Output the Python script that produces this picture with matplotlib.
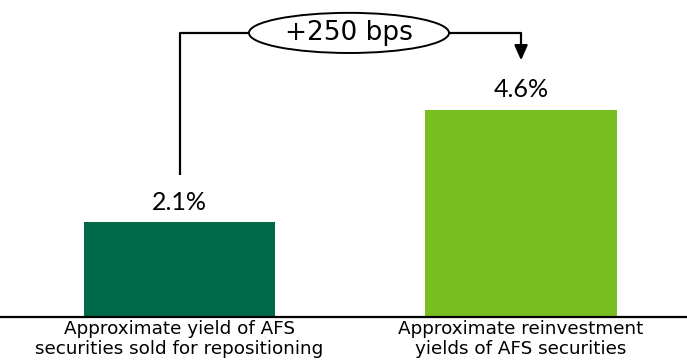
import matplotlib
matplotlib.use("Agg")
import matplotlib.pyplot as plt
from matplotlib.patches import Ellipse

categories = ["Approximate yield of AFS\nsecurities sold for repositioning",
              "Approximate reinvestment\nyields of AFS securities"]
values = [2.1, 4.6]
value_labels = ["2.1%", "4.6%"]
delta_label = "+250 bps"
colors = ["#00694A", "#78BE21"]

fig = plt.figure(figsize=(6.87, 3.63), dpi=100)
ax = fig.add_axes([0, 0.1267, 1, 0.8733])
x = [0, 1]
ax.bar(x, values, width=0.56, color=colors)
ax.set_xlim(-0.526, 1.486)
ax.set_ylim(0, 7.03)
for s in ["top", "right", "left"]:
    ax.spines[s].set_visible(False)
ax.spines["bottom"].set_linewidth(1.6)
ax.spines["bottom"].set_color("black")
ax.set_yticks([])
ax.set_xticks(x)
ax.set_xticklabels(categories, fontsize=13.2, family="DejaVu Sans", linespacing=1.12)
ax.tick_params(axis="x", length=0, pad=2.5)

for xi, v, lab in zip(x, values, value_labels):
    ax.text(xi, v + 0.28, lab, ha="center", va="baseline", fontsize=18, family="Lato")

# bracket
top = 6.3
ax.plot([x[0], x[0], 0.2], [values[0] + 1.05, top, top], color="black", lw=1.6, solid_capstyle="butt")
ax.plot([0.79, x[1], x[1]], [top, top, top - 0.3], color="black", lw=1.6)
ax.annotate("", xy=(x[1], values[1] + 1.03), xytext=(x[1], top - 0.2),
            arrowprops=dict(arrowstyle="-|>,head_length=0.9,head_width=0.4", color="black", lw=1.6))
ell = Ellipse((0.496, top), 0.586, 0.89, facecolor="white", edgecolor="black", lw=1.4, zorder=3)
ax.add_patch(ell)
ax.text(0.496, top - 0.01, delta_label, ha="center", va="center", fontsize=19, family="DejaVu Sans", zorder=4)

fig.savefig("out.png", dpi=100)
